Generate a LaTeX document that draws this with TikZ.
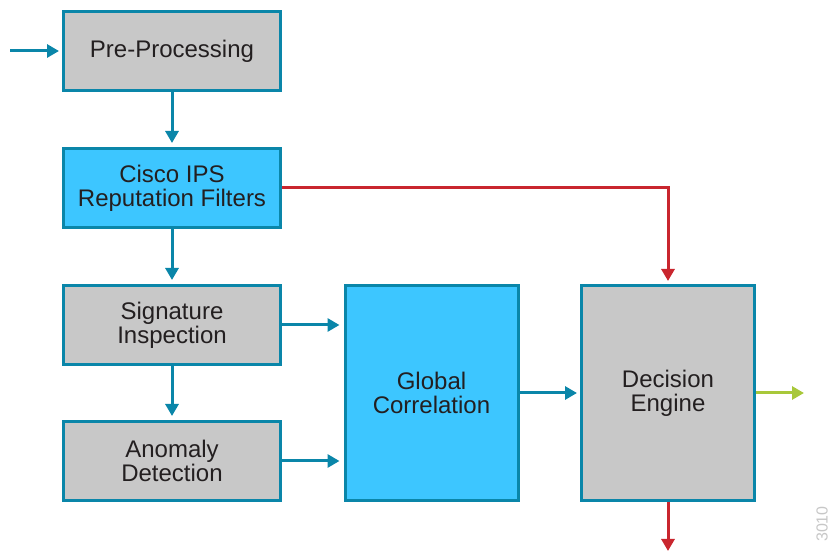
\documentclass[tikz,border=0pt]{standalone}
\usepackage{fontspec}
\setmainfont{Liberation Sans}
\usetikzlibrary{positioning,arrows.meta,calc}
\definecolor{boxgray}{HTML}{C8C8C8}
\definecolor{boxblue}{HTML}{3DC6FF}
\definecolor{edge}{HTML}{0A86A9}
\definecolor{redline}{HTML}{C9262E}
\definecolor{greenline}{HTML}{A8C83A}
\definecolor{txt}{HTML}{231F20}
\tikzset{
	blk/.style={draw=edge,line width=3pt,fill=boxgray,text=txt,align=center,
		minimum width=217pt,minimum height=79pt,inner sep=0pt,
		font=\fontsize{24}{24}\selectfont},
	blkblue/.style={blk,fill=boxblue},
	tall/.style={minimum width=173pt,minimum height=215pt},
	flow/.style={-{Triangle[length=12pt,width=13pt]},line width=3pt,draw=edge,shorten >=3pt},
}
\begin{document}
\begin{tikzpicture}[x=1pt,y=-1pt]
		\useasboundingbox (0,0) rectangle (831,553);
		\def\cx{172}
		% left column
		\node[blk] (pre) at (\cx,51) {Pre-Processing};
		\node[blkblue] (rep) at (\cx,188) {Cisco IPS\\Reputation Filters};
		\node[blk] (sig) at (\cx,325) {Signature\\Inspection};
		\node[blk] (ano) at (\cx,461) {Anomaly\\Detection};
		% right blocks
		\node[blkblue,tall] (glob) at (431.5,393) {Global\\Correlation};
		\node[blk,tall] (dec) at (668,393) {Decision\\Engine};
		\coordinate (in) at (10,51);
		\coordinate (out) at (804,393);
		\coordinate (drop) at (668,551);
		\node[rotate=90,text=black!22,font=\fontsize{16}{16}\selectfont,inner sep=0pt] (stamp) at (822,524) {3010};
		%flow
		\draw[flow] (in) -- (pre);
		\draw[flow,shorten >=4pt] (pre) -- (rep);
		\draw[flow,shorten >=4pt] (rep) -- (sig);
		\draw[flow,shorten >=4pt] (sig) -- (ano);
		\draw[flow,shorten >=4pt] (sig.east) -- (sig.east -| glob.west);
		\draw[flow,shorten >=4pt] (ano.east) -- (ano.east -| glob.west);
		\draw[flow] (glob) -- (dec);
		\draw[flow,draw=redline] (rep.east) -| (dec.north);
		\draw[flow,draw=redline,shorten >=0pt] (dec) -- (drop);
		\draw[flow,draw=greenline,shorten >=0pt] (dec) -- (out);
	\end{tikzpicture}
\end{document}
